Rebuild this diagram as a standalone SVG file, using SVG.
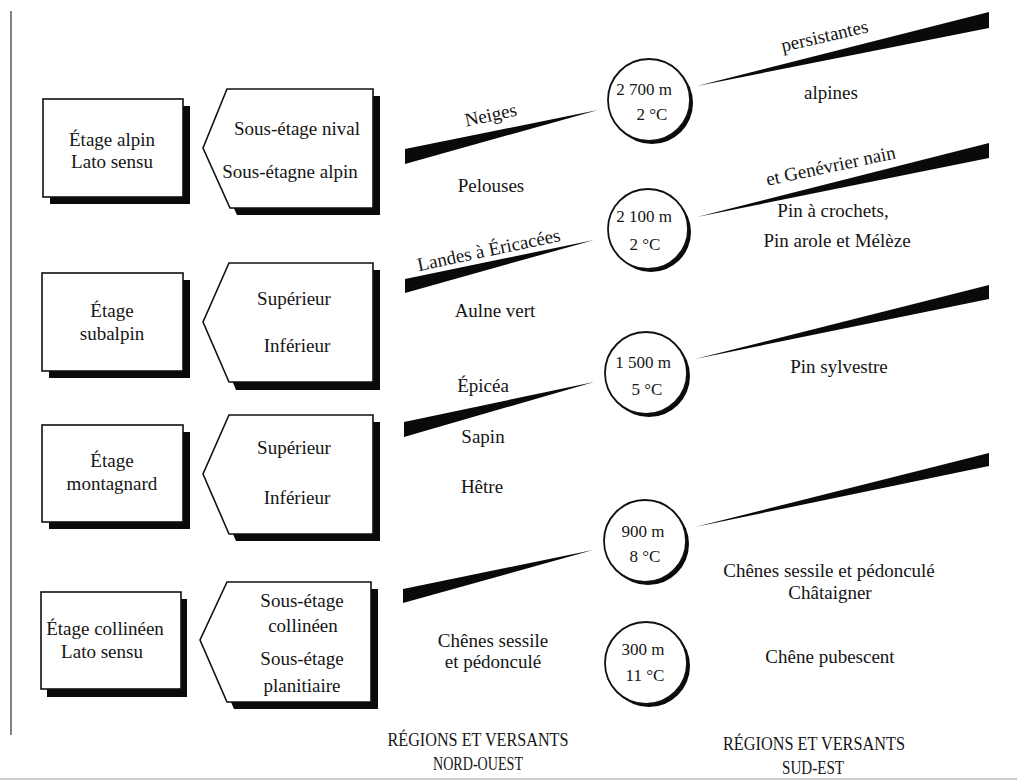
<svg xmlns="http://www.w3.org/2000/svg" width="1017" height="784" viewBox="0 0 1017 784">
<style>
.t{font-family:"Liberation Serif","Times New Roman","DejaVu Serif",serif;font-size:19px;fill:#151515;text-anchor:middle}
.c{font-size:17px}
.b{font-size:19px}
.box{fill:#fff;stroke:#111;stroke-width:1.6}
.sh{fill:#0a0a0a}
.w{fill:#0a0a0a}
.circ{fill:#fff;stroke:#111;stroke-width:1.8}
</style>
<rect width="1017" height="784" fill="#fff"/>
<line x1="11" y1="11" x2="11" y2="735" stroke="#666" stroke-width="1.6"/>
<line x1="0" y1="779" x2="1017" y2="779" stroke="#bbb" stroke-width="1.5"/>

<g id="connectors">
<polygon class="w" points="405,149 598,110 405,164"/>
<polygon class="w" points="405,279 594,240 405,293"/>
<polygon class="w" points="404,422 594,382 404,437"/>
<polygon class="w" points="403,589 593,550 403,603"/>
<polygon class="w" points="697,86 989,12 989,28"/>
<polygon class="w" points="697,217 989,143 989,158"/>
<polygon class="w" points="695,359 989,285 989,299"/>
<polygon class="w" points="695,527 989,453 989,466"/>
</g>

<g id="etage-alpin">
<rect class="sh" x="50" y="106" width="140" height="98"/>
<rect class="box" x="43" y="99" width="140" height="98"/>
<text class="t" x="112" y="146">Étage alpin</text>
<text class="t" x="112" y="168">Lato sensu</text>
</g>
<g id="sous-alpin">
<polygon class="sh" points="234,96 380,96 380,215 237,215 210,155"/>
<polygon class="box" points="227,89 373,89 373,208 230,208 203,148"/>
<text class="t" x="297" y="135">Sous-étage nival</text>
<text class="t" x="290" y="178">Sous-étagne alpin</text>
</g>

<g id="etage-subalpin">
<rect class="sh" x="49" y="280" width="141" height="98"/>
<rect class="box" x="42" y="273" width="141" height="98"/>
<text class="t" x="112" y="317">Étage</text>
<text class="t" x="112" y="340">subalpin</text>
</g>
<g id="sous-subalpin">
<polygon class="sh" points="236,270 380,270 380,390 236,390 210,329"/>
<polygon class="box" points="229,263 373,263 373,382 229,382 203,322"/>
<text class="t" x="294" y="305">Supérieur</text>
<text class="t" x="297" y="352">Inférieur</text>
</g>

<g id="etage-montagnard">
<rect class="sh" x="49" y="432" width="141" height="97"/>
<rect class="box" x="42" y="425" width="141" height="97"/>
<text class="t" x="112" y="467">Étage</text>
<text class="t" x="112" y="490">montagnard</text>
</g>
<g id="sous-montagnard">
<polygon class="sh" points="236,422 380,422 380,541 236,541 210,481"/>
<polygon class="box" points="229,415 373,415 373,534 229,534 203,474"/>
<text class="t" x="294" y="454">Supérieur</text>
<text class="t" x="297" y="504">Inférieur</text>
</g>

<g id="etage-collineen">
<rect class="sh" x="47" y="599" width="140" height="98"/>
<rect class="box" x="41" y="592" width="140" height="97"/>
<text class="t" x="105" y="635">Étage collinéen</text>
<text class="t" x="102" y="658">Lato sensu</text>
</g>
<g id="sous-collineen">
<polygon class="sh" points="234,589 378,589 378,709 234,709 207,647"/>
<polygon class="box" points="227,582 371,582 371,702 227,702 200,640"/>
<text class="t" x="302" y="607">Sous-étage</text>
<text class="t" x="303" y="632">collinéen</text>
<text class="t" x="302" y="665">Sous-étage</text>
<text class="t" x="302" y="692">planitiaire</text>
</g>

<g id="alt-2700">
<circle class="sh" cx="652" cy="103" r="41"/>
<circle class="circ" cx="649" cy="100" r="41"/>
<text class="t c" x="644" y="95">2 700 m</text>
<text class="t c" x="652" y="120">2 °C</text>
</g>
<g id="alt-2100">
<circle class="sh" cx="651" cy="232" r="40"/>
<circle class="circ" cx="648" cy="229" r="40"/>
<text class="t c" x="644" y="222">2 100 m</text>
<text class="t c" x="645" y="250">2 °C</text>
</g>
<g id="alt-1500">
<circle class="sh" cx="649" cy="376" r="41"/>
<circle class="circ" cx="646" cy="373" r="41"/>
<text class="t c" x="643" y="368">1 500 m</text>
<text class="t c" x="647" y="395">5 °C</text>
</g>
<g id="alt-900">
<circle class="sh" cx="648" cy="544" r="41"/>
<circle class="circ" cx="645" cy="541" r="41"/>
<text class="t c" x="643" y="537">900 m</text>
<text class="t c" x="645" y="562">8 °C</text>
</g>
<g id="alt-300">
<circle class="sh" cx="649" cy="666" r="41"/>
<circle class="circ" cx="646" cy="663" r="41"/>
<text class="t c" x="643" y="655">300 m</text>
<text class="t c" x="645" y="681">11 °C</text>
</g>

<g id="nw-labels">
<text class="t" x="492" y="121" transform="rotate(-12 492 121)">Neiges</text>
<text class="t" x="491" y="192">Pelouses</text>
<text class="t" x="490" y="256" transform="rotate(-12 490 256)">Landes à Éricacées</text>
<text class="t" x="495" y="317">Aulne vert</text>
<text class="t" x="483" y="392">Épicéa</text>
<text class="t" x="483" y="443">Sapin</text>
<text class="t" x="482" y="493">Hêtre</text>
<text class="t" x="493" y="647">Chênes sessile</text>
<text class="t" x="493" y="668">et pédonculé</text>
</g>

<g id="se-labels">
<text class="t" x="826" y="42" transform="rotate(-13 826 42)">persistantes</text>
<text class="t" x="831" y="99">alpines</text>
<text class="t" x="832" y="172" transform="rotate(-12 832 172)">et Genévrier nain</text>
<text class="t" x="833" y="217">Pin à crochets,</text>
<text class="t" x="837" y="247">Pin arole et Mélèze</text>
<text class="t" x="839" y="373">Pin sylvestre</text>
<text class="t" x="829" y="577">Chênes sessile et pédonculé</text>
<text class="t" x="830" y="599">Châtaigner</text>
<text class="t" x="830" y="663">Chêne pubescent</text>
</g>

<g id="footer">
<text class="t b" x="478" y="746" textLength="181" lengthAdjust="spacingAndGlyphs">RÉGIONS ET VERSANTS</text>
<text class="t b" x="478" y="770" textLength="90" lengthAdjust="spacingAndGlyphs">NORD-OUEST</text>
<text class="t b" x="814" y="750" textLength="182" lengthAdjust="spacingAndGlyphs">RÉGIONS ET VERSANTS</text>
<text class="t b" x="813" y="774" textLength="62" lengthAdjust="spacingAndGlyphs">SUD-EST</text>
</g>
</svg>
